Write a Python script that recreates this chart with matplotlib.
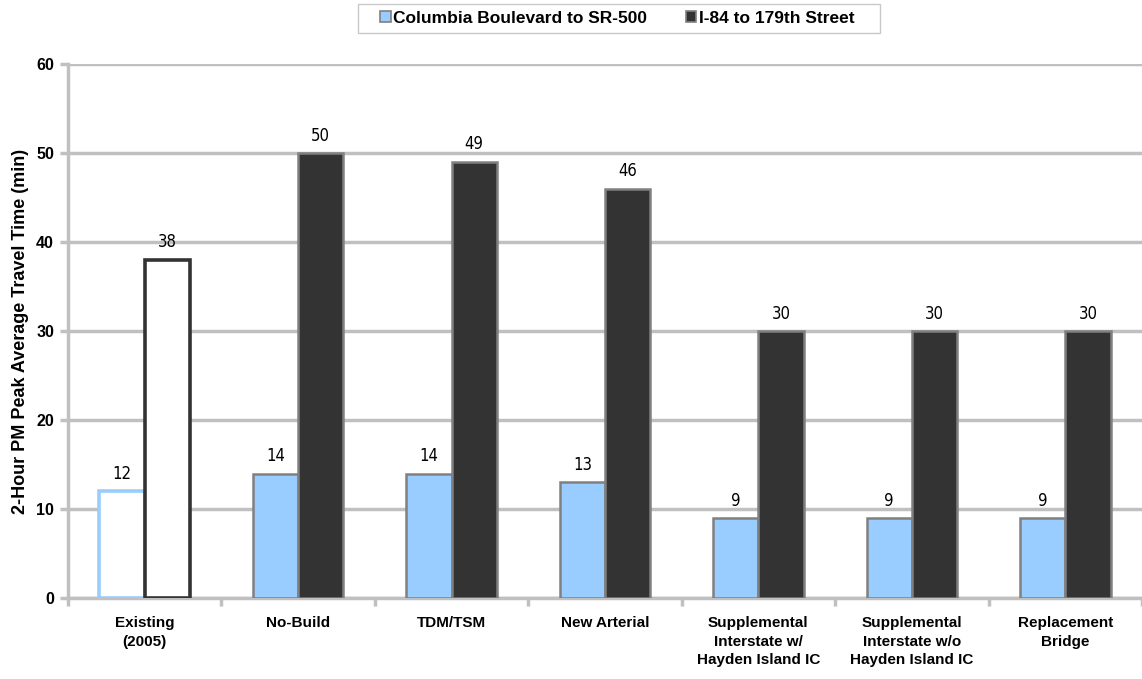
import matplotlib
matplotlib.use("Agg")
from matplotlib import pyplot as plt
from matplotlib import font_manager
import numpy as np

categories = ["Existing\n(2005)", "No-Build", "TDM/TSM", "New Arterial",
              "Supplemental\nInterstate w/\nHayden Island IC",
              "Supplemental\nInterstate w/o\nHayden Island IC",
              "Replacement\nBridge"]
columbia = [12, 14, 14, 13, 9, 9, 9]
i84 = [38, 50, 49, 46, 30, 30, 30]
series_names = ["Columbia Boulevard to SR-500", "I-84 to 179th Street"]

plt.rcParams['font.family'] = ['Liberation Sans', 'DejaVu Sans']

# narrow face for the value labels, if any is installed
cands = [f for f in font_manager.fontManager.ttflist
         if ("Narrow" in f.name or "Condensed" in f.name or f.stretch in ("condensed", "semi-condensed"))
         and "Bold" not in f.fname and "Oblique" not in f.fname and "Italic" not in f.fname]
narrow_fp = font_manager.FontProperties(fname=cands[0].fname, size=12) if cands else \
    font_manager.FontProperties(family="DejaVu Sans", size=10)

light = "#99CCFF"
dark = "#333333"
grid_c = "#C0C0C0"

fig = plt.figure(figsize=(11.42, 6.79), dpi=100)
ax = fig.add_axes([0.0595, 0.119, 0.9405, 0.787])

x = np.arange(len(categories))
w = 0.295
b1 = ax.bar(x - w / 2, columbia, w, color=light, edgecolor="#808080", linewidth=1.8, zorder=3)
b2 = ax.bar(x + w / 2, i84, w, color=dark, edgecolor="#808080", linewidth=1.8, zorder=3)

# existing conditions shown as outlined bars
b1[0].set_facecolor("white")
b1[0].set_edgecolor(light)
b1[0].set_linewidth(2.6)
b2[0].set_facecolor("white")
b2[0].set_edgecolor(dark)
b2[0].set_linewidth(2.6)

for bars, vals in ((b1, columbia), (b2, i84)):
    for r, v in zip(bars, vals):
        ax.annotate(str(v), (r.get_x() + r.get_width() / 2, v), xytext=(0, 6),
                    textcoords="offset points", ha="center", va="bottom",
                    fontproperties=narrow_fp)

ax.set_xlim(-0.5, len(categories) - 0.5)
ax.set_ylim(0, 60)
ax.set_yticks(range(0, 61, 10))
ax.set_xticks(np.arange(-0.5, len(categories), 1.0), minor=False)
ax.set_xticklabels([])
ax.set_xticks(x, minor=True)
ax.set_xticklabels(categories, minor=True, fontsize=11, fontweight="bold", linespacing=1.4)
ax.tick_params(axis="x", which="minor", length=0, pad=13)
ax.tick_params(axis="x", which="major", length=6, width=2.5, color=grid_c)
ax.tick_params(axis="y", length=6, width=2.5, color=grid_c, labelsize=11.5, pad=4)
for t in ax.get_yticklabels():
    t.set_fontweight("bold")

ax.yaxis.grid(True, color=grid_c, linewidth=2.5, zorder=0)
ax.set_axisbelow(True)
for s in ("top", "right"):
    ax.spines[s].set_visible(False)
for s in ("left", "bottom"):
    ax.spines[s].set_color(grid_c)
    ax.spines[s].set_linewidth(2.5)

ax.set_ylabel("2-Hour PM Peak Average Travel Time (min)", fontsize=13, fontweight="bold", labelpad=5)

# legend box drawn separately so its padding can match
fig.patches.append(plt.Rectangle((358 / 1142, 1 - 33 / 679), 522 / 1142, 29 / 679,
                                 transform=fig.transFigure, facecolor="white",
                                 edgecolor="#C8C8C8", linewidth=1))
h1 = plt.Rectangle((0, 0), 1, 1, facecolor=light, edgecolor="#808080", linewidth=1.2)
h2 = plt.Rectangle((0, 0), 1, 1, facecolor=dark, edgecolor="#808080", linewidth=1.2)
fig.legend([h1, h2], series_names, loc="center", bbox_to_anchor=(0.5405, 1 - 18.5 / 679),
           ncol=2, frameon=False, handlelength=0.6, handleheight=0.6, handletextpad=0.15,
           columnspacing=2.2, borderpad=0, prop={"size": 12.5, "weight": "bold"})

fig.savefig("out.png", dpi=100)
